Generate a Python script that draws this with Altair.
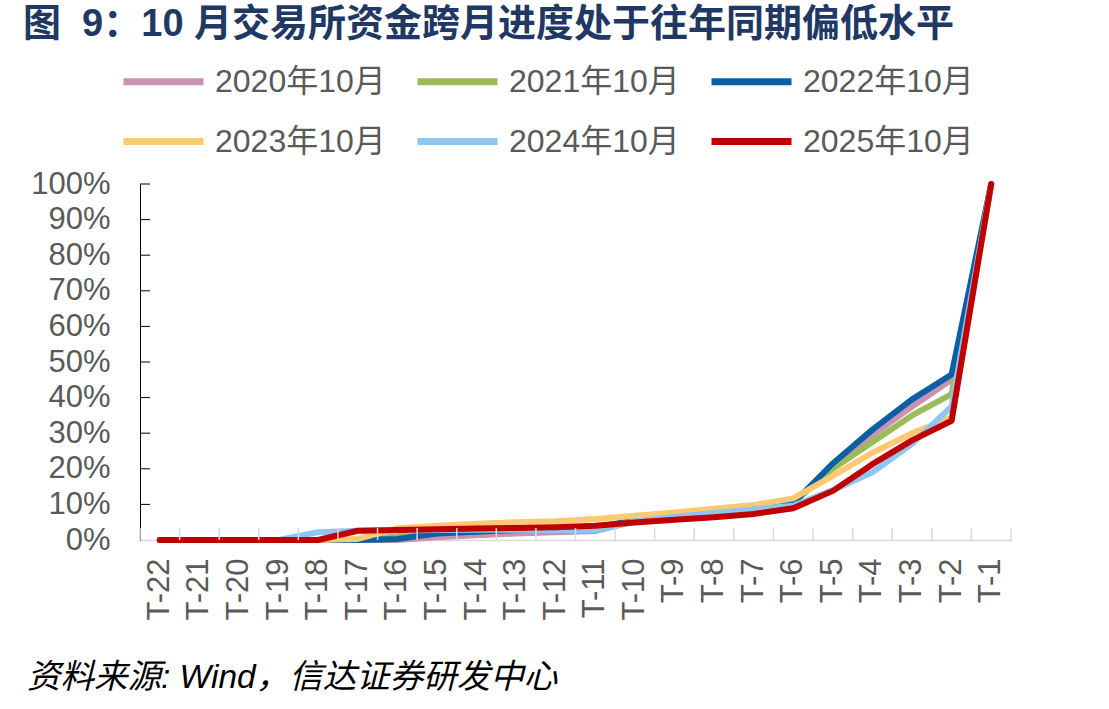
import altair as alt
import pandas as pd

cats = ["T-22", "T-21", "T-20", "T-19", "T-18", "T-17", "T-16", "T-15", "T-14", "T-13", "T-12",
        "T-11", "T-10", "T-9", "T-8", "T-7", "T-6", "T-5", "T-4", "T-3", "T-2", "T-1"]

series_names = ["2020年10月", "2021年10月", "2022年10月", "2023年10月", "2024年10月", "2025年10月"]
series_colors = ["#C893B0", "#9BBB59", "#0B5FA5", "#FFC872", "#8DC6F2", "#C00000"]

v2020 = [0, 0, 0, 0, 0, 0, 0, 0.8, 1.3, 1.8, 2.2, 2.5, 5.3, 6.6, 7.9, 8.8, 10.8, 20.5, 29.5, 37.5, 45.0, 100]
v2021 = [0, 0, 0, 0, 0, 0, 1.0, 2.0, 2.3, 2.7, 3.0, 3.4, 5.5, 6.8, 8.0, 9.0, 10.5, 20.0, 27.5, 35.0, 41.0, 100]
v2022 = [0, 0, 0, 0, 0, 0, 0.3, 1.8, 2.3, 2.8, 3.2, 3.6, 5.5, 6.6, 7.3, 8.2, 10.3, 21.5, 31.0, 39.5, 46.5, 100]
v2023 = [0, 0, 0, 0, 0, 0.3, 3.3, 4.0, 4.6, 5.0, 5.3, 5.9, 6.8, 7.7, 8.8, 9.8, 11.7, 18.0, 24.5, 30.0, 34.5, 100]
v2024 = [0, 0, 0, 0, 2.2, 2.6, 2.7, 2.8, 2.9, 2.9, 2.8, 2.8, 5.2, 6.5, 7.6, 8.6, 9.6, 14.0, 19.0, 27.0, 37.5, 100]
v2025 = [0, 0, 0, 0, 0, 2.6, 2.8, 3.0, 3.2, 3.4, 3.6, 4.0, 4.9, 5.7, 6.4, 7.3, 8.9, 13.8, 21.3, 28.0, 33.5, 100]

y_ticks = [0, 0.1, 0.2, 0.3, 0.4, 0.5, 0.6, 0.7, 0.8, 0.9, 1.0]

title_str = "图\u00a0\u00a09：10\u00a0月交易所资金跨月进度处于往年同期偏低水平"
source_str = "资料来源: Wind，信达证券研发中心"

FONT = "Liberation Sans, Arial, Noto Sans CJK SC"
W, H = 871, 356

rows = []
for name, vals in zip(series_names, [v2020, v2021, v2022, v2023, v2024, v2025]):
    for c, v in zip(cats, vals):
        rows.append({"cat": c, "series": name, "value": v / 100.0})
df = pd.DataFrame(rows)

xscale = alt.Scale(type="band", domain=cats, paddingInner=0, paddingOuter=0)
yscale = alt.Scale(domain=[0, 1], nice=False)

xaxis = alt.Axis(labelAngle=270, labelAlign="right", labelBaseline="middle",
                 labelFontSize=31, labelFont=FONT, labelColor="#595959",
                 labelPadding=18, ticks=False, domainColor="#D9D9D9",
                 domainWidth=1.5, grid=False, labelOverlap=False, title=None)
yaxis = alt.Axis(values=y_ticks, format=".0%", labelFontSize=31, labelFont=FONT,
                 labelColor="#595959", labelPadding=30, ticks=False,
                 domainColor="#000000", domainWidth=1, grid=False,
                 labelOverlap=False, labelBound=False, labelFlush=False, title=None)

lines = alt.Chart(df).mark_line(strokeWidth=6, strokeCap="round", strokeJoin="round").encode(
    x=alt.X("cat:N", scale=xscale, sort=cats, title=None, axis=xaxis),
    y=alt.Y("value:Q", scale=yscale, title=None, axis=yaxis),
    color=alt.Color("series:N", sort=series_names,
                    scale=alt.Scale(domain=series_names, range=series_colors),
                    legend=alt.Legend(title=None, orient="none", legendX=-20, legendY=-146,
                                      direction="horizontal", columns=3, columnPadding=17,
                                      rowPadding=-21, symbolType="stroke", symbolSize=6400,
                                      symbolStrokeWidth=7, labelFontSize=32, labelFont=FONT,
                                      labelColor="#595959", labelOffset=8, padding=0,
                                      labelLimit=0)),
)

tick_df = pd.DataFrame({"cat": cats})
xticks = alt.Chart(tick_df).mark_rule(color="#D9D9D9", strokeWidth=1.5).encode(
    x=alt.X("cat:N", scale=xscale, sort=cats, bandPosition=0, title=None, axis=xaxis),
    y=alt.value(H - 12), y2=alt.value(H),
)
xtick_end = alt.Chart(pd.DataFrame({"cat": [cats[-1]]})).mark_rule(color="#D9D9D9", strokeWidth=1.5).encode(
    x=alt.X("cat:N", scale=xscale, sort=cats, bandPosition=1, title=None, axis=xaxis),
    y=alt.value(H - 12), y2=alt.value(H),
)

yticks = alt.Chart(pd.DataFrame({"v": y_ticks[1:]})).mark_rule(color="#000000", strokeWidth=1).encode(
    y=alt.Y("v:Q", scale=yscale, title=None, axis=yaxis),
    x=alt.value(0), x2=alt.value(10),
)

title_text = alt.Chart(pd.DataFrame({"t": [title_str]})).mark_text(
    align="left", baseline="middle", fontSize=38, fontWeight="bold", font=FONT, color="#1F3864"
).encode(text="t:N", x=alt.value(-117), y=alt.value(-159))

source_text = alt.Chart(pd.DataFrame({"t": [source_str]})).mark_text(
    align="left", baseline="middle", fontSize=33.5, fontStyle="italic", font=FONT, color="#000000"
).encode(text="t:N", x=alt.value(-113), y=alt.value(494))

chart = alt.layer(lines, xticks, xtick_end, yticks, title_text, source_text).properties(
    width=W, height=H,
    autosize=alt.AutoSizeParams(type="none"),
    padding={"left": 140, "top": 184, "right": 98, "bottom": 169},
    background="white",
).configure_view(stroke=None)

chart.save("out.html", embed_options={"renderer": "svg", "actions": False})
